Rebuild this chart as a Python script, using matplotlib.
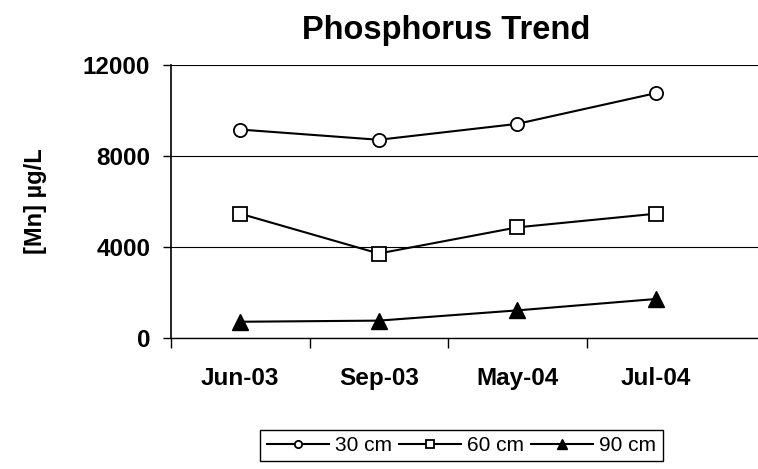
import matplotlib.pyplot as plt
import numpy as np

plt.rcParams['font.family'] = ['Liberation Sans', 'DejaVu Sans']

months = ['Jun-03', 'Sep-03', 'May-04', 'Jul-04']
cm30 = [9150, 8700, 9400, 10750]
cm60 = [5450, 3700, 4850, 5450]
cm90 = [700, 750, 1200, 1700]

fig = plt.figure(figsize=(7.58, 4.69), dpi=100)
ax = fig.add_axes([0.2256, 0.28, 0.7744, 0.582])

x = np.arange(len(months))
ax.plot(x, cm30, color='black', lw=1.5, marker='o', ms=9.5, mfc='white', mec='black', mew=1.3, label='30 cm')
ax.plot(x, cm60, color='black', lw=1.5, marker='s', ms=10, mfc='white', mec='black', mew=1.3, label='60 cm')
ax.plot(x, cm90, color='black', lw=1.5, marker='^', ms=12, mfc='black', mec='black', label='90 cm')

ax.set_ylim(0, 12000)
ax.set_yticks([0, 4000, 8000, 12000])
ax.set_xlim(-0.5, 3.738)
ax.set_xticks(x)
ax.set_xticklabels(months)
ax.set_xticks([-0.5, 0.5, 1.5, 2.5], minor=True)
ax.tick_params(axis='x', which='major', length=0, pad=21, labelsize=17.5)
ax.tick_params(axis='x', which='minor', length=7, width=1)
ax.tick_params(axis='y', length=6, width=1, pad=9, labelsize=17.5)
for lab in ax.get_xticklabels() + ax.get_yticklabels():
    lab.set_fontweight('bold')

ax.grid(axis='y', color='black', lw=0.8)
ax.set_axisbelow(True)
for s in ['top', 'right']:
    ax.spines[s].set_visible(False)
ax.spines['left'].set_linewidth(1.2)
ax.spines['bottom'].set_linewidth(1.0)

ax.set_ylabel('[Mn] µg/L', fontsize=17, fontweight='bold', labelpad=26)
fig.text(0.588, 0.935, 'Phosphorus Trend', fontsize=23.5, fontweight='bold', ha='center', va='center')

fig.legend(loc='center', bbox_to_anchor=(0.609, 0.05), ncol=3, fontsize=15, markerscale=0.55,
           handlelength=3.0, columnspacing=0.3, handletextpad=0.3, frameon=True, fancybox=False,
           edgecolor='black', borderpad=0.3, framealpha=1)

fig.savefig('out.png', dpi=100)
